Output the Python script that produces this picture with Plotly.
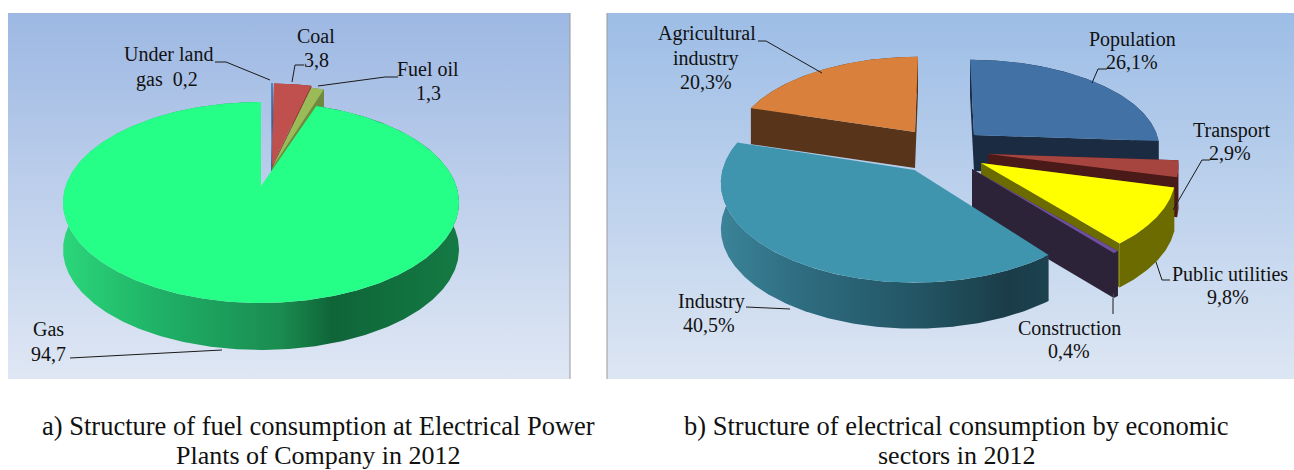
import math
import plotly.graph_objects as go

# ---- data ----
fuel_labels = ["Under land gas", "Coal", "Fuel oil", "Gas"]
fuel_values = [0.2, 3.8, 1.3, 94.7]
sector_labels = ["Population", "Transport", "Public utilities", "Construction", "Industry", "Agricultural industry"]
sector_values = [26.1, 2.9, 9.8, 0.4, 40.5, 20.3]
caption_a = ["a) Structure of fuel consumption at Electrical Power", "Plants of Company in 2012"]
caption_b = ["b) Structure of electrical consumption by economic", "sectors in 2012"]

# ---- style: apex x, apex y, rx, ry, wall height, perspective, top colour, wall colour ----
FUEL_STYLE = {
    "Under land gas": (271, 166, 183, 96, 40, .164, "#4f81bd", "#3a5f8c"),
    "Coal": (272, 166, 183, 96, 40, .164, "#c0504d", "#7d3432"),
    "Fuel oil": (272, 168, 183, 96, 40, .164, "#9bbb59", "#6f8a3e"),
    "Gas": (261, 186, 195.3, 97.8, 47, .164, "#25ff88", None),
}
GAS_WALL = [[0, "#2bd67a"], [.25, "#1fb066"], [.55, "#1a8c50"], [.68, "#0f6538"], [1, "#147a44"]]
SECTOR_STYLE = {
    "Agricultural industry": (915, 132, 179, 85, 36, .13, "#d9803c", "#57341a"),
    "Population": (974, 135, 183, 85, 36, .13, "#4271a6", "#1b2c42"),
    "Transport": (988, 154, 189, 90, 40, .13, "#a64440", "#4a1a18"),
    "Public utilities": (981, 163, 193, 95, 44, .13, "#ffff00", "#6b6b00"),
    "Construction": (972, 169, 203, 97, 45, .13, "#6f4fa0", "#2d2338"),
    "Industry": (914.5, 170, 192, 98, 46, .13, "#4095ae", None),
}
SKEW = {"Population": .053, "Agricultural industry": -.04}
INDUSTRY_WALL = [[0, "#3b8398"], [.25, "#2e6c80"], [.6, "#235564"], [.88, "#1a3c48"], [1, "#1c4250"]]
DRAW_ORDER_A = ["Under land gas", "Coal", "Fuel oil", "Gas"]
DRAW_ORDER_B = ["Agricultural industry", "Population", "Transport", "Public utilities", "Construction", "Industry"]
FONT = "Liberation Serif"

fig = go.Figure()


def poly(xs, ys, color=None, gradient=None):
    kw = dict(x=xs, y=ys, mode="lines", fill="toself", line=dict(width=0),
              hoverinfo="skip", showlegend=False)
    if gradient:
        kw["fillgradient"] = gradient
    else:
        kw["fillcolor"] = color
    fig.add_trace(go.Scatter(**kw))


def panel(x0, y0, x1, y1, top, bottom):
    poly([x0, x1, x1, x0, x0], [y0, y0, y1, y1, y0],
         gradient=dict(type="vertical", colorscale=[[0, bottom], [1, top]]))


def arc(style, a0, a1, skew=0):
    ax, ay, rx, ry, h, k, *_ = style
    n = max(3, int(abs(a1 - a0) * 1.5))
    xs, ys = [], []
    for i in range(n + 1):
        t = math.radians(a0 + (a1 - a0) * i / n)
        u, v = math.sin(t), -math.cos(t)
        s = 1 / (1 - k * v)
        dy = ry * v * s
        xs.append(ax + rx * u * s + skew * dy)
        ys.append(ay + dy)
    return xs, ys


def wedge(style, a0, a1, wall_gradient=None, skew=0):
    ax, ay, rx, ry, h, k, top, wall = style
    xs, ys = arc(style, a0, a1, skew)
    wall_fill = dict(gradient=dict(type="horizontal", colorscale=wall_gradient)) if wall_gradient else dict(color=wall)
    # radial cut faces
    if not wall_gradient:
        for x, y in ((xs[0], ys[0]), (xs[-1], ys[-1])):
            poly([ax, x, x, ax, ax], [ay, y, y + h, ay + h, ay], color=wall)
    # outer wall
    poly(xs + xs[::-1] + xs[:1], ys + [y + h for y in ys[::-1]] + ys[:1], **wall_fill)
    # top face
    poly([ax] + xs + [ax], [ay] + ys + [ay], color=top)


def pie(labels, values, styles, order, gradients):
    total = sum(values)
    spans, acc = {}, 0
    for l, v in zip(labels, values):
        spans[l] = (acc / total * 360, (acc + v) / total * 360)
        acc += v
    for l in order:
        wedge(styles[l], *spans[l], wall_gradient=gradients.get(l), skew=SKEW.get(l, 0))


def leader(xs, ys, color="#1a1a1a"):
    fig.add_trace(go.Scatter(x=xs, y=ys, mode="lines", line=dict(color=color, width=1),
                             hoverinfo="skip", showlegend=False))


def text(x, y, s, size=20):
    fig.add_annotation(x=x, y=y, text=s, showarrow=False, xref="x", yref="y",
                       xanchor="center", yanchor="middle",
                       font=dict(family=FONT, size=size, color="#111111"))


def comma(v, pct=False):
    return str(v).replace(".", ",") + ("%" if pct else "")


# ---- panels ----
panel(8, 13, 570, 379, "#9db8e3", "#dfe7f4")
panel(607, 13, 1294, 379, "#9dbde6", "#dde6f3")
for x in (570, 607):
    leader([x, x], [13, 379], "#999999")

# ---- pies ----
pie(fuel_labels, fuel_values, FUEL_STYLE, DRAW_ORDER_A, {"Gas": GAS_WALL})
pie(sector_labels, sector_values, SECTOR_STYLE, DRAW_ORDER_B, {"Industry": INDUSTRY_WALL})

# ---- leaders ----
leader([215, 226, 270], [62, 62, 80])
leader([304, 295, 292], [65, 65, 82])
leader([398, 385, 318], [77, 77, 86])
leader([70, 222], [358, 350])
leader([758, 766, 822], [41, 41, 73])
leader([1107, 1098, 1092], [69, 69, 83])
leader([1210, 1202, 1173], [160, 160, 210])
leader([1170, 1162, 1156], [280, 280, 262])
leader([1113, 1113], [298, 314])
leader([746, 790], [307, 309])

# ---- labels ----
fv = dict(zip(fuel_labels, fuel_values))
sv = dict(zip(sector_labels, sector_values))
text(168, 54, "Under land")
text(167, 79, "gas  " + comma(fv["Under land gas"]))
text(316, 36, "Coal")
text(316, 60, comma(fv["Coal"]))
text(428, 69, "Fuel oil")
text(428, 93, comma(fv["Fuel oil"]))
text(48, 329, "Gas")
text(48, 354, comma(fv["Gas"]))
text(707, 33, "Agricultural")
text(706, 58, "industry")
text(706, 82, comma(sv["Agricultural industry"], True))
text(1132, 39, "Population")
text(1132, 62, comma(sv["Population"], True))
text(1231, 130, "Transport")
text(1230, 153, comma(sv["Transport"], True))
text(1230, 274, "Public utilities")
text(1228, 297, comma(sv["Public utilities"], True))
text(1069, 328, "Construction")
text(1069, 351, comma(sv["Construction"], True))
text(711, 301, "Industry")
text(709, 325, comma(sv["Industry"], True))
text(318, 425.5, caption_a[0], 26.5)
text(318, 455, caption_a[1], 26)
text(956, 425.5, caption_b[0], 26.5)
text(956, 455, caption_b[1], 26)

fig.update_layout(
    width=1294, height=470, margin=dict(l=0, r=0, t=0, b=0),
    paper_bgcolor="white", plot_bgcolor="white", showlegend=False,
    xaxis=dict(range=[0, 1294], visible=False, fixedrange=True),
    yaxis=dict(range=[470, 0], visible=False, fixedrange=True),
)
fig.write_html("out.html", config={"displayModeBar": False},
               post_script="document.body.style.margin='0';document.body.style.overflow='hidden';")
